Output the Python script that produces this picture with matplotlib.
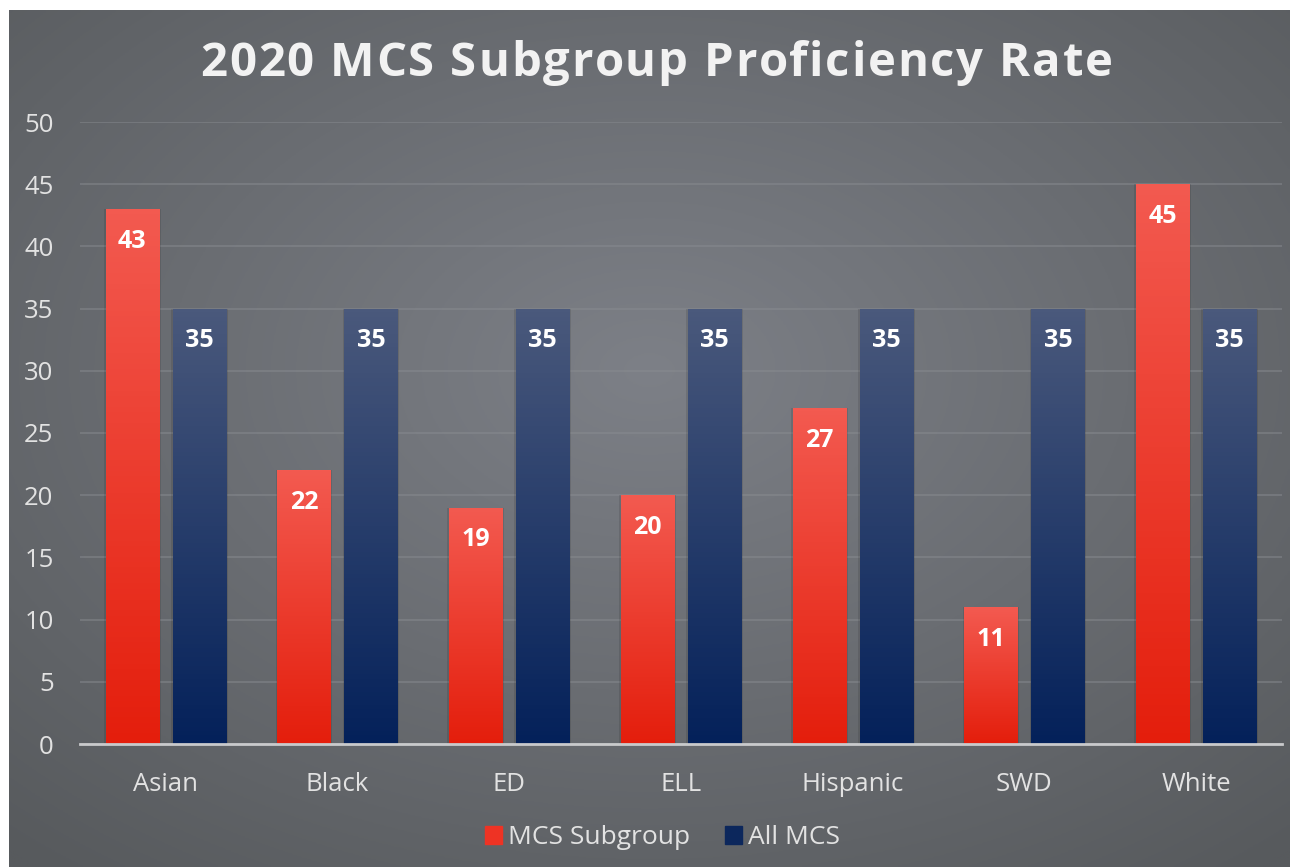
import numpy as np
import matplotlib.pyplot as plt
from matplotlib.patches import Rectangle

categories = ["Asian", "Black", "ED", "ELL", "Hispanic", "SWD", "White"]
subgroup = [43, 22, 19, 20, 27, 11, 45]
all_mcs = [35, 35, 35, 35, 35, 35, 35]
series_names = ["MCS Subgroup", "All MCS"]
title = "2020 MCS Subgroup Proficiency Rate"

plt.rcParams['font.family'] = ['Open Sans', 'DejaVu Sans']

W, H = 1291, 867
fig = plt.figure(figsize=(W / 100, H / 100), dpi=100, facecolor="white")

# background panel with radial gradient
bg = fig.add_axes([9 / W, 0, (W - 10) / W, (H - 10) / H], zorder=-10)
yy, xx = np.mgrid[0:1:300j, 0:1:450j]
r = np.sqrt(((xx - 0.5) / 0.75) ** 2 + ((yy - 0.42) / 0.75) ** 2)
r = np.clip(r, 0, 1)
c0 = np.array([0x7d, 0x80, 0x87]) / 255
c1 = np.array([0x57, 0x5a, 0x5d]) / 255
img = c0[None, None, :] * (1 - r[..., None]) + c1[None, None, :] * r[..., None]
bg.imshow(img, extent=[0, 1, 0, 1], aspect="auto", origin="upper")
bg.set_axis_off()

ax = fig.add_axes([80 / W, (H - 744) / H, 1202 / W, (744 - 122) / H])
ax.patch.set_alpha(0)

x = np.arange(len(categories))
bw = 0.31
off = 0.195


def grad_bar(ax, xc, h, top, bottom):
    t = np.linspace(0, 1, 100)[:, None]
    top = np.array(top) / 255
    bottom = np.array(bottom) / 255
    g = top[None, None, :] * (1 - t[..., None]) + bottom[None, None, :] * t[..., None]
    # soft side shadow
    ax.add_patch(Rectangle((xc - bw / 2 - 0.01, 0), bw + 0.02, h,
                           color="black", alpha=0.1, lw=0, zorder=2))
    im = ax.imshow(g, extent=[xc - bw / 2, xc + bw / 2, 0, h], aspect="auto",
                   origin="upper", zorder=3)
    rect = Rectangle((xc - bw / 2, 0), bw, h, transform=ax.transData, visible=False)
    ax.add_patch(rect)
    im.set_clip_path(rect)


for i in range(len(categories)):
    grad_bar(ax, x[i] - off, subgroup[i], (0xf3, 0x5a, 0x50), (0xe4, 0x1e, 0x0c))
    grad_bar(ax, x[i] + off, all_mcs[i], (0x4a, 0x59, 0x7c), (0x04, 0x21, 0x5a))
    ax.text(x[i] - off, subgroup[i] - 2.6, str(subgroup[i]), ha="center", va="center",
            color="white", fontsize=18, fontweight="bold", zorder=5)
    ax.text(x[i] + off, all_mcs[i] - 2.6, str(all_mcs[i]), ha="center", va="center",
            color="white", fontsize=18, fontweight="bold", zorder=5)

ax.set_xlim(-0.5, len(categories) - 0.5)
ax.set_ylim(0, 50)
ax.set_yticks(range(0, 51, 5))
ax.set_xticks(x)
ax.set_xticklabels(categories)
ax.grid(axis="y", color="#8a8d92", lw=1.2, alpha=0.55, zorder=0)
ax.set_axisbelow(True)
for s in ["top", "right", "left"]:
    ax.spines[s].set_visible(False)
ax.spines["bottom"].set_color("#c9cacc")
ax.spines["bottom"].set_linewidth(2)
ax.spines["bottom"].set_zorder(6)
ax.tick_params(axis="y", length=0, pad=19, labelsize=18.5, labelcolor="#e2e2e2")
ax.tick_params(axis="x", length=0, pad=20, labelsize=18.5, labelcolor="#e2e2e2")

# title with letter spacing, drawn char by char
renderer = fig.canvas.get_renderer()
tkw = dict(fontsize=34, fontweight="bold", color="#f2f2f2", va="center", ha="left")
probe = fig.text(0, 0, title, **tkw)
full_w = probe.get_window_extent(renderer).width
probe.remove()
target_w = 913
spacing = (target_w - full_w) / (len(title) - 1)
x0 = 656.5 - target_w / 2
for i, ch in enumerate(title):
    if i > 0:
        p = fig.text(0, 0, title[:i] + "|", **tkw)
        q = fig.text(0, 0, "|", **tkw)
        adv = p.get_window_extent(renderer).width - q.get_window_extent(renderer).width
        p.remove()
        q.remove()
    else:
        adv = 0
    fig.text((x0 + adv + i * spacing) / W, 1 - 63 / H, ch, **tkw)

handles = [Rectangle((0, 0), 1, 1, color="#ee3324"), Rectangle((0, 0), 1, 1, color="#0c275c")]
fig.legend(handles, series_names, loc="center", bbox_to_anchor=(0.5 + 17 / W, 1 - 838 / H),
           ncol=2, frameon=False, fontsize=19, labelcolor="#e2e2e2",
           handlelength=0.65, handleheight=0.65, handletextpad=0.25, columnspacing=1.3)

fig.savefig("out.png", dpi=100, facecolor="white")
